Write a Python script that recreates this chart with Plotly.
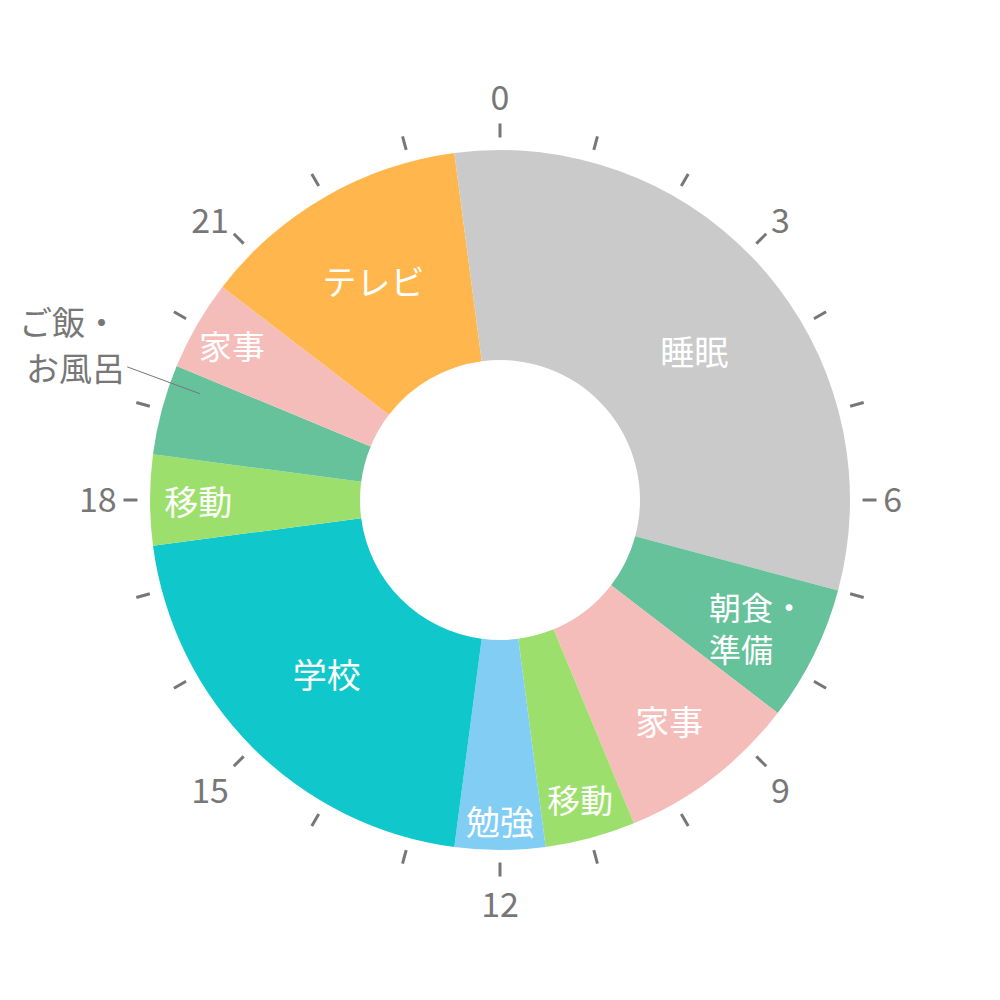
import math
import plotly.graph_objects as go

# daily schedule, slices in order from 0:00 clockwise
activities = ["睡眠", "朝食・準備", "家事", "移動", "勉強", "学校",
              "移動", "ご飯・お風呂", "家事", "テレビ", "睡眠"]
hours = [7.0, 1.5, 2.0, 1.0, 1.0, 5.0, 1.0, 1.0, 1.0, 3.0, 0.5]
colors = ["#cacaca", "#66c29a", "#f5bdb9", "#9ddf6c", "#82cdf4", "#10c8cc",
          "#9ddf6c", "#66c29a", "#f5bdb9", "#ffb74d", "#cacaca"]
# text written inside each slice by the pie ("" = drawn separately / none)
inside_text = ["睡眠", "", "家事", "移動", "勉強", "学校",
               "移動", "", "家事", "テレビ", ""]
clock_hours = list(range(24))
clock_labels = [str(h) if h % 3 == 0 else "" for h in clock_hours]

FONT = "Noto Sans CJK JP"
GREY = "#777777"

# page has an 8px body margin, so centre the dial slightly up-left
CX, CY = 0.492, 0.508
R_PIE = 0.35
R_DIAL = 0.362


def px(x, y):
    # page pixel -> paper coordinates
    return (x - 8) / 1000, 1 - (y - 8) / 1000


def polar_to_paper(hour, r):
    a = math.radians(hour * 15)
    return CX + r * math.sin(a), CY + r * math.cos(a)


fig = go.Figure()

fig.add_trace(go.Pie(
    labels=[str(i) for i in range(len(hours))],
    values=hours,
    text=inside_text,
    textinfo="text",
    textposition="inside",
    insidetextorientation="horizontal",
    insidetextfont=dict(family=FONT, size=34, color="white"),
    marker=dict(colors=colors, line=dict(width=0)),
    hole=0.4,
    sort=False,
    direction="clockwise",
    rotation=0,
    showlegend=False,
    hoverinfo="skip",
    domain=dict(x=[CX - R_PIE, CX + R_PIE], y=[CY - R_PIE, CY + R_PIE]),
))

# invisible trace so the clock dial (polar axis) gets drawn
fig.add_trace(go.Scatterpolar(
    r=[0] * len(clock_hours),
    theta=[h * 15 for h in clock_hours],
    mode="markers",
    marker=dict(size=0, opacity=0),
    showlegend=False,
    hoverinfo="skip",
))

# two-line label inside the breakfast slice, left aligned
mid = sum(hours[:1]) + hours[1] / 2
bx, by = polar_to_paper(mid, 0.287)
fig.add_annotation(
    x=bx, y=by, xref="paper", yref="paper",
    xanchor="center", yanchor="middle",
    text="朝食・<br>準備", align="left",
    showarrow=False,
    font=dict(family=FONT, size=32, color="white"),
)

# outside label for the small "ご飯・お風呂" slice
start = sum(hours[:7])
tip_x, tip_y = polar_to_paper(start + 0.8, 0.318)
fig.add_annotation(
    x=tip_x, y=tip_y,
    xref="paper", yref="paper",
    text="お風呂",
    xanchor="right", yanchor="middle",
    showarrow=True, arrowhead=0, arrowwidth=1, arrowcolor=GREY,
    ax=-73, ay=-27,
    font=dict(family=FONT, size=33, color=GREY),
)
lx, ly = px(120, 321)
fig.add_annotation(
    x=lx, y=ly,
    xref="paper", yref="paper",
    text="ご飯・",
    xanchor="right", yanchor="middle",
    showarrow=False,
    font=dict(family=FONT, size=33, color=GREY),
)

fig.update_layout(
    width=1000, height=1000,
    margin=dict(l=0, r=0, t=0, b=0),
    paper_bgcolor="white",
    plot_bgcolor="white",
    polar=dict(
        domain=dict(x=[CX - R_DIAL, CX + R_DIAL], y=[CY - R_DIAL, CY + R_DIAL]),
        bgcolor="rgba(0,0,0,0)",
        radialaxis=dict(visible=False),
        angularaxis=dict(
            direction="clockwise",
            rotation=90,
            tickmode="array",
            tickvals=[h * 15 for h in clock_hours],
            ticktext=clock_labels,
            ticks="outside",
            ticklen=14,
            tickwidth=3,
            tickcolor=GREY,
            showline=False,
            showgrid=False,
            tickfont=dict(family=FONT, size=34, color=GREY),
        ),
    ),
)

fig.write_html("out.html")
